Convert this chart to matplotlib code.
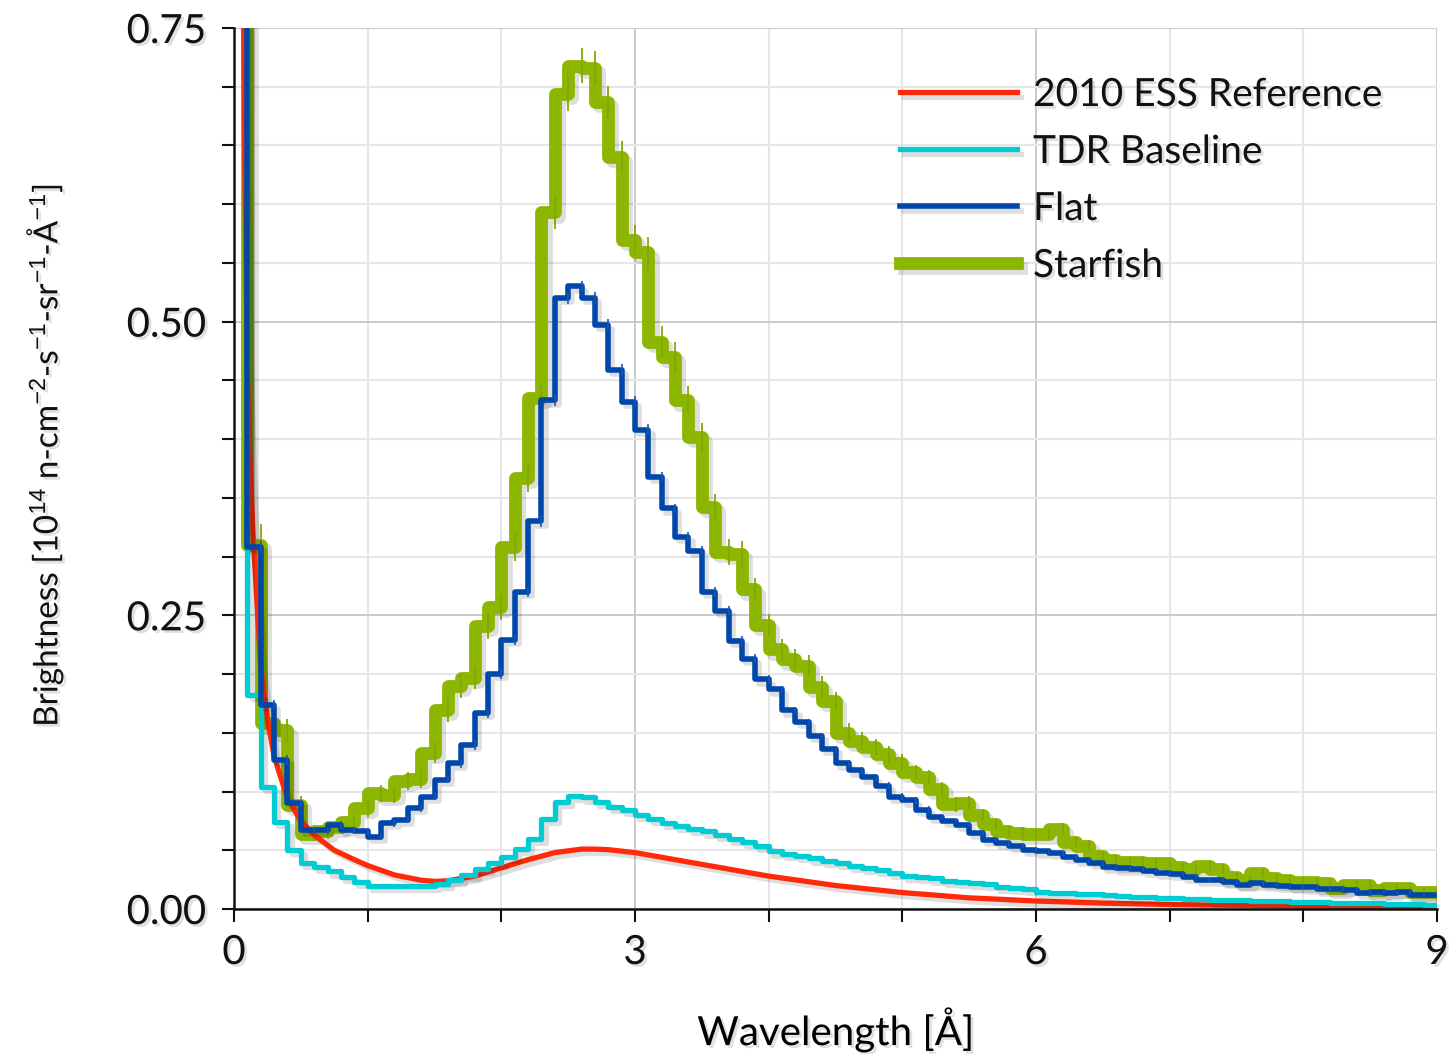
import numpy as np
import matplotlib
matplotlib.use("Agg")
import matplotlib.pyplot as plt
from matplotlib import patheffects as pe

# ---------------- data ----------------
bin_width = 0.1  # Å
n_bins = 90

# 2010 ESS Reference (smooth curve): sampled points
ess_x = [0.06, 0.07, 0.08, 0.10, 0.12, 0.14, 0.16, 0.20, 0.25, 0.30, 0.40, 0.50, 0.60, 0.75,
         0.90, 1.00, 1.20, 1.40, 1.50, 1.60, 1.80, 2.00, 2.20, 2.40, 2.60, 2.70, 2.80,
         3.00, 3.25, 3.50, 3.75, 4.00, 4.50, 5.00, 5.50, 6.00, 6.50, 7.00, 7.50, 8.00,
         8.50, 9.00]
ess_y = [1.00, 0.80, 0.64, 0.46, 0.38, 0.325, 0.285, 0.205, 0.162, 0.13, 0.094, 0.075, 0.063, 0.050,
         0.042, 0.037, 0.029, 0.0245, 0.0235, 0.024, 0.028, 0.035, 0.042, 0.048, 0.051, 0.051,
         0.0505, 0.048, 0.043, 0.038, 0.033, 0.028, 0.020, 0.014, 0.0095, 0.0068, 0.005,
         0.0038, 0.003, 0.0025, 0.002, 0.0015]

tdr = [1.5, 0.182, 0.104, 0.074, 0.050, 0.039, 0.036, 0.032, 0.0275, 0.023,
       0.020, 0.020, 0.020, 0.020, 0.020, 0.021, 0.025, 0.029, 0.034, 0.039,
       0.044, 0.051, 0.060, 0.077, 0.091, 0.096, 0.095, 0.091, 0.087, 0.084,
       0.080, 0.077, 0.073, 0.071, 0.068, 0.066, 0.063, 0.060, 0.057, 0.054,
       0.049, 0.047, 0.045, 0.043, 0.041, 0.039, 0.037, 0.035, 0.033, 0.031,
       0.028, 0.027, 0.026, 0.024, 0.023, 0.022, 0.021, 0.019, 0.018, 0.017,
       0.0145, 0.014, 0.0135, 0.013, 0.0125, 0.012, 0.011, 0.0105, 0.010, 0.0095,
       0.009, 0.0087, 0.0085, 0.008, 0.0078, 0.0075, 0.007, 0.0068, 0.0065, 0.0063,
       0.006, 0.0058, 0.0055, 0.0052, 0.005, 0.0047, 0.0045, 0.0042, 0.004, 0.0037]

flat = [1.5, 0.308, 0.174, 0.127, 0.090, 0.067, 0.067, 0.0715, 0.067, 0.066,
        0.0616, 0.073, 0.0758, 0.0857, 0.0956, 0.110, 0.124, 0.1396, 0.1666, 0.200,
        0.229, 0.270, 0.330, 0.433, 0.520, 0.530, 0.520, 0.497, 0.459, 0.432,
        0.408, 0.368, 0.341, 0.317, 0.305, 0.270, 0.254, 0.228, 0.213, 0.1955,
        0.187, 0.169, 0.159, 0.147, 0.136, 0.124, 0.118, 0.112, 0.105, 0.0955,
        0.0925, 0.0845, 0.0787, 0.075, 0.0717, 0.0645, 0.059, 0.056, 0.054, 0.0505,
        0.049, 0.0474, 0.0445, 0.0417, 0.039, 0.036, 0.0346, 0.034, 0.0325, 0.031,
        0.0297, 0.0275, 0.0247, 0.0247, 0.0233, 0.0204, 0.0218, 0.0204, 0.0196, 0.019,
        0.0184, 0.0167, 0.0167, 0.0162, 0.0139, 0.0148, 0.0133, 0.0148, 0.0119, 0.0119]

starfish = [1.5, 0.310, 0.158, 0.152, 0.0885, 0.064, 0.066, 0.070, 0.074, 0.0857,
            0.0985, 0.097, 0.109, 0.111, 0.133, 0.1695, 0.190, 0.197, 0.241, 0.257,
            0.308, 0.367, 0.435, 0.593, 0.694, 0.718, 0.716, 0.687, 0.640, 0.5695,
            0.559, 0.483, 0.470, 0.433, 0.402, 0.342, 0.304, 0.302, 0.272, 0.2415,
            0.221, 0.2125, 0.207, 0.189, 0.177, 0.150, 0.143, 0.138, 0.1317, 0.1246,
            0.117, 0.112, 0.102, 0.089, 0.090, 0.080, 0.072, 0.066, 0.065, 0.064,
            0.064, 0.068, 0.0573, 0.054, 0.045, 0.0417, 0.040, 0.040, 0.039, 0.039,
            0.036, 0.034, 0.0366, 0.034, 0.0275, 0.0247, 0.0304, 0.026, 0.0247, 0.0233,
            0.0233, 0.0218, 0.0176, 0.0204, 0.0204, 0.0162, 0.0176, 0.0176, 0.0148, 0.0148]

flat_err = [0.0, 0.005, 0.004, 0.004, 0.003, 0.003, 0.003, 0.003, 0.003, 0.003,
            0.003, 0.003, 0.003, 0.003, 0.003, 0.003, 0.004, 0.004, 0.004, 0.004,
            0.004, 0.004, 0.005, 0.005, 0.005, 0.005, 0.005, 0.005, 0.005, 0.005,
            0.005, 0.004, 0.004, 0.004, 0.004, 0.004, 0.004, 0.004, 0.004, 0.004,
            0.003, 0.003, 0.003, 0.003, 0.003, 0.003, 0.003, 0.003, 0.003, 0.003,
            0.003, 0.003, 0.002, 0.002, 0.002, 0.002, 0.002, 0.002, 0.002, 0.002,
            0.002, 0.002, 0.002, 0.002, 0.002, 0.002, 0.002, 0.002, 0.002, 0.002,
            0.002, 0.002, 0.002, 0.002, 0.002, 0.002, 0.002, 0.002, 0.002, 0.002,
            0.002, 0.002, 0.002, 0.002, 0.002, 0.002, 0.002, 0.002, 0.002, 0.002]

starfish_err = [0.0, 0.018, 0.012, 0.010, 0.008, 0.006, 0.006, 0.006, 0.006, 0.007,
                0.007, 0.007, 0.008, 0.008, 0.009, 0.010, 0.010, 0.010, 0.011, 0.011,
                0.012, 0.012, 0.013, 0.014, 0.015, 0.015, 0.014, 0.014, 0.014, 0.013,
                0.013, 0.013, 0.013, 0.012, 0.012, 0.011, 0.011, 0.011, 0.010, 0.010,
                0.009, 0.009, 0.009, 0.009, 0.008, 0.008, 0.008, 0.007, 0.007, 0.007,
                0.006, 0.006, 0.006, 0.006, 0.006, 0.005, 0.005, 0.005, 0.005, 0.005,
                0.005, 0.005, 0.005, 0.005, 0.004, 0.004, 0.004, 0.004, 0.004, 0.004,
                0.004, 0.004, 0.004, 0.004, 0.004, 0.004, 0.004, 0.004, 0.004, 0.004,
                0.004, 0.004, 0.004, 0.004, 0.004, 0.004, 0.004, 0.004, 0.004, 0.004]

labels = ["2010 ESS Reference", "TDR Baseline", "Flat", "Starfish"]
colors = ["#ff2a0a", "#00ccd3", "#0047ab", "#8db600"]

x_ticks_major = [0, 3, 6, 9]
x_ticks_minor = [1, 2, 4, 5, 7, 8]
y_ticks_major = [0.0, 0.25, 0.50, 0.75]
y_ticks_minor = [0.05, 0.10, 0.15, 0.20, 0.30, 0.35, 0.40, 0.45, 0.55, 0.60, 0.65, 0.70]

# ---------------- style ----------------
FONT = ["Lato", "DejaVu Sans"]
plt.rcParams["font.family"] = FONT
plt.rcParams["mathtext.fontset"] = "custom"
plt.rcParams["mathtext.rm"] = "Liberation Sans"
plt.rcParams["mathtext.it"] = "Liberation Sans"
plt.rcParams["mathtext.bf"] = "Liberation Sans"

fig = plt.figure(figsize=(14.51, 10.54), dpi=100)
ax = fig.add_axes([234 / 1451, 1 - 909 / 1054, (1437 - 234) / 1451, (909 - 28) / 1054])

edges = np.arange(n_bins + 1) * bin_width


def step_vals(v):
    v = np.asarray(v, float)
    return np.append(v, v[-1])


line_shadow = [pe.SimpleLineShadow(offset=(3, -3), shadow_color="k", alpha=0.13), pe.Normal()]
text_shadow = [pe.SimplePatchShadow(offset=(2, -2), shadow_rgbFace="k", alpha=0.12), pe.Normal()]

# Starfish (bottom)
l_star, = ax.plot(edges, step_vals(starfish), drawstyle="steps-post", color=colors[3],
                  lw=9.2, solid_joinstyle="round", zorder=3, path_effects=line_shadow)
ax.errorbar(edges[2:], starfish[1:], yerr=starfish_err[1:], fmt="none",
            ecolor="#82a800", elinewidth=1.3, capsize=0, zorder=3.5)
# ESS reference
l_ess, = ax.plot(ess_x, ess_y, color=colors[0], lw=3.8, zorder=4,
                 solid_joinstyle="round", path_effects=line_shadow)
# TDR
l_tdr, = ax.plot(edges, step_vals(tdr), drawstyle="steps-post", color=colors[1],
                 lw=3.8, solid_joinstyle="round", zorder=5, path_effects=line_shadow)
# Flat (top)
l_flat, = ax.plot(edges, step_vals(flat), drawstyle="steps-post", color=colors[2],
                  lw=4.0, solid_joinstyle="round", zorder=6, path_effects=line_shadow)
ax.errorbar(edges[2:], flat[1:], yerr=flat_err[1:], fmt="none",
            ecolor="#1d55b0", elinewidth=1.2, capsize=0, zorder=6.5)

ax.set_xlim(0, 9)
ax.set_ylim(0, 0.75)

ax.set_xticks(x_ticks_major)
ax.set_xticks(x_ticks_minor, minor=True)
ax.set_yticks(y_ticks_major)
ax.set_yticks(y_ticks_minor, minor=True)
ax.set_xticklabels([str(t) for t in x_ticks_major])
ax.set_yticklabels([f"{t:.2f}" for t in y_ticks_major])

ax.grid(which="major", color="#c6c6c6", lw=1.3, zorder=0)
ax.grid(which="minor", color="#e6e6e6", lw=1.5, zorder=0)
ax.set_axisbelow(True)

for s in ["top", "right"]:
    ax.spines[s].set_visible(False)
for s in ["left", "bottom"]:
    ax.spines[s].set_linewidth(1.8)
    ax.spines[s].set_color("#111111")
    ax.spines[s].set_zorder(10)

ax.tick_params(which="both", direction="out", length=9, width=1.5, color="#111111")
ax.tick_params(axis="y", which="major", labelsize=29, pad=11)
ax.tick_params(axis="x", which="major", labelsize=29, pad=9)

for lab in ax.get_xticklabels() + ax.get_yticklabels():
    lab.set_path_effects(text_shadow)
    lab.set_color("#111111")

xl = ax.set_xlabel("Wavelength [Å]", fontsize=29, labelpad=26)
xl.set_path_effects(text_shadow)
yl = fig.text(45 / 1451, 1 - 455 / 1054,
              r"Brightness [10$^{14}$ n-cm$^{-2}$-s$^{-1}$-sr$^{-1}$-Å$^{-1}$]",
              rotation=90, ha="center", va="center", fontsize=24,
              color="#111111")
yl.set_path_effects(text_shadow)

leg = ax.legend([l_ess, l_tdr, l_flat, l_star], labels, loc="upper left",
                bbox_to_anchor=(900 / 1451, 1 - 77 / 1054), bbox_transform=fig.transFigure,
                frameon=False, fontsize=28, handlelength=3.0, handletextpad=0.42,
                labelspacing=0.54, borderpad=0, borderaxespad=0)
for t in leg.get_texts():
    t.set_path_effects(text_shadow)
    t.set_color("#111111")

fig.savefig("out.png", dpi=100)
